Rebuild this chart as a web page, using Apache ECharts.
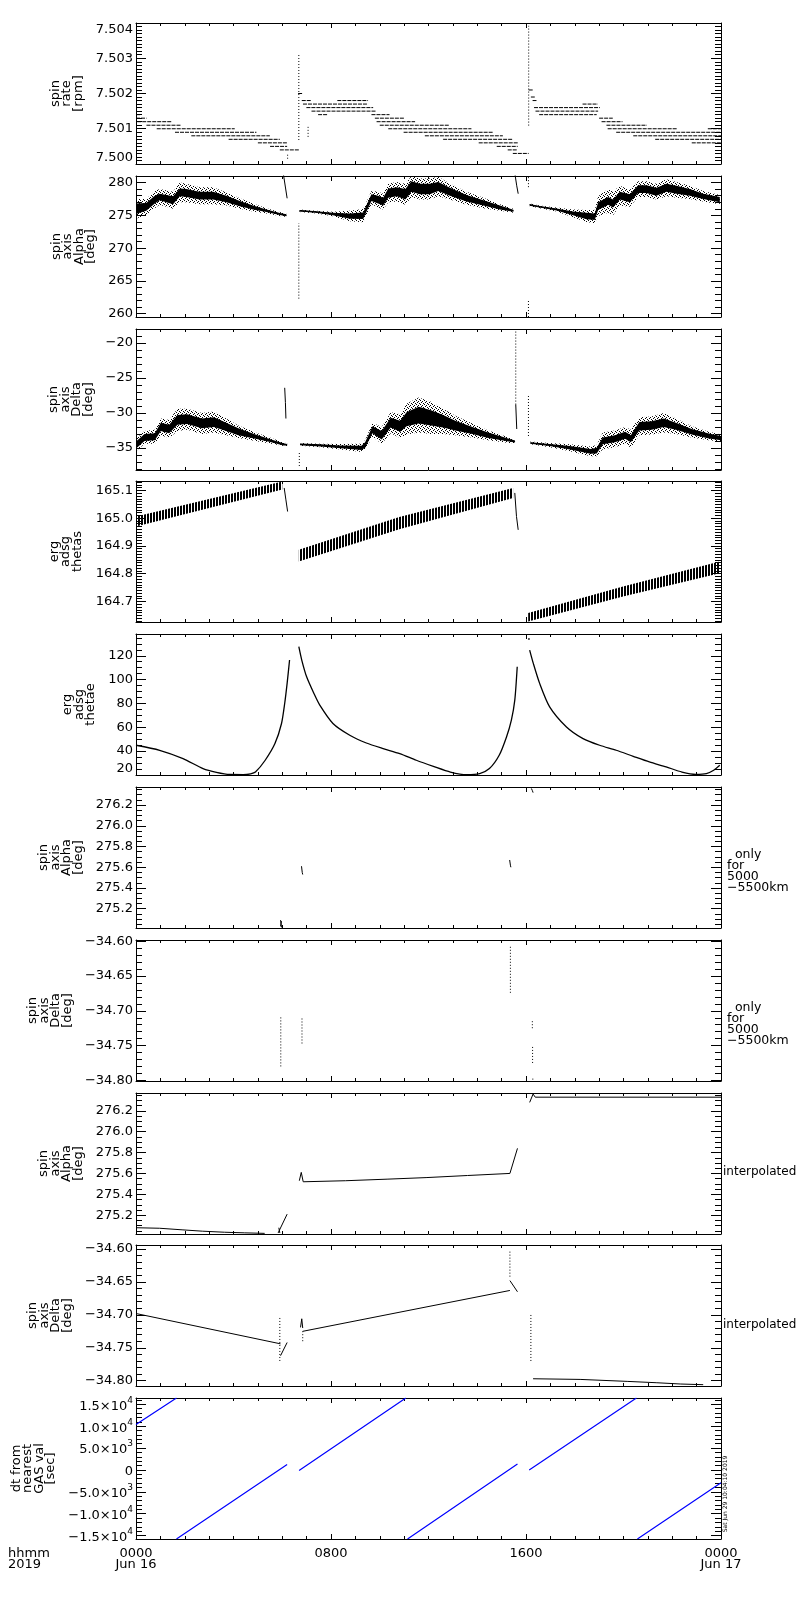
<!DOCTYPE html>
<html>
<head>
<meta charset="utf-8">
<script src="https://cdn.jsdelivr.net/npm/echarts@6/dist/echarts.min.js"></script>
<style>
  html, body { margin: 0; padding: 0; background: #fff; }
  #chart { width: 800px; height: 1600px; }
</style>
</head>
<body>
<div id="chart"></div>
<script>
// ====== values; time is hours of 2019 Jun 16 ======
const X_TICKS = [0, 8, 16, 24];
const X_TICK_LABELS = ['0000\nJun 16', '0800', '1600', '0000\nJun 17'];

// spin rate: flat runs [t0, t1, rpm]
const RATE_RUNS = [
  [0.0, 0.2, 7.5014], [0.0, 0.43, 7.5013], [0.05, 1.45, 7.5012], [0.43, 1.86, 7.5011],
  [0.85, 4.05, 7.5010], [1.6, 4.94, 7.5009], [2.27, 5.49, 7.5008], [3.8, 5.9, 7.5007],
  [5.0, 6.2, 7.5006], [5.5, 6.2, 7.5005], [5.9, 6.68, 7.5004],
  [6.65, 6.85, 7.5020], [6.8, 7.2, 7.5018], [6.85, 9.52, 7.5017], [6.99, 9.73, 7.5016],
  [7.2, 9.86, 7.5015], [8.26, 9.52, 7.5018], [7.47, 7.88, 7.5014],
  [9.66, 10.4, 7.5014], [9.8, 11.0, 7.5013], [9.87, 11.45, 7.5012], [10.0, 12.87, 7.5011],
  [10.35, 13.76, 7.5010], [10.98, 14.64, 7.5009], [11.85, 15.05, 7.5008], [12.6, 15.46, 7.5007],
  [14.06, 15.66, 7.5006], [14.8, 15.66, 7.5005], [15.25, 15.66, 7.5004], [15.46, 16.11, 7.5003],
  [16.11, 16.29, 7.5021], [16.2, 16.36, 7.5019], [16.27, 16.43, 7.5018], [16.33, 19.03, 7.5016],
  [16.39, 18.96, 7.5015], [16.54, 18.9, 7.5014], [18.32, 18.95, 7.5017],
  [19.0, 19.56, 7.5013], [19.1, 19.96, 7.5012], [19.3, 20.96, 7.5011], [19.35, 22.2, 7.5010],
  [23.46, 24.0, 7.5010], [19.7, 24.0, 7.5009], [20.4, 24.0, 7.5008], [21.3, 24.0, 7.5007],
  [22.8, 24.0, 7.5006]
];
// dotted vertical columns [t, low, high]
const RATE_SPIKES = [[6.22, 7.50015, 7.50032], [6.68, 7.50068, 7.50310], [7.06, 7.50077, 7.50111], [16.11, 7.50109, 7.50392]];

// spin axis Alpha: [t, middle, core half width, scatter half width]
const ALPHA_BAND = [
  [[0.0, 276.0, 0.8, 1.5], [0.42, 276.3, 0.6, 1.2], [0.77, 277.4, 0.6, 1.3], [0.97, 277.8, 0.5, 1.2],
   [1.52, 277.3, 0.6, 1.3], [1.8, 278.5, 0.6, 1.5], [2.07, 278.4, 0.6, 1.4], [2.6, 278.0, 0.6, 1.3],
   [3.16, 278.0, 0.6, 1.3], [3.71, 277.5, 0.5, 1.0], [4.26, 276.8, 0.4, 0.8], [4.8, 276.2, 0.3, 0.6],
   [5.35, 275.7, 0.2, 0.4], [5.9, 275.2, 0.15, 0.3], [6.17, 275.0, 0.15, 0.25]],
  [[6.71, 275.7, 0.12, 0.2], [7.4, 275.5, 0.12, 0.2], [8.08, 275.2, 0.2, 0.35], [8.77, 274.9, 0.4, 0.8],
   [9.32, 274.95, 0.5, 1.0], [9.45, 276.0, 0.5, 1.0], [9.66, 277.7, 0.5, 1.0], [9.93, 277.4, 0.6, 1.2],
   [10.14, 277.1, 0.6, 1.2], [10.35, 278.4, 0.7, 1.4], [10.7, 278.6, 0.7, 1.5], [11.05, 278.2, 0.8, 1.6],
   [11.3, 279.4, 0.8, 1.6], [11.65, 279.0, 0.8, 1.6], [12.05, 279.0, 0.8, 1.6], [12.4, 279.4, 0.7, 1.5],
   [12.88, 278.6, 0.6, 1.2], [13.56, 277.6, 0.5, 1.0], [14.25, 276.9, 0.4, 0.8], [14.93, 276.2, 0.3, 0.5],
   [15.48, 275.7, 0.15, 0.3]],
  [[16.15, 276.6, 0.12, 0.2], [16.56, 276.3, 0.12, 0.2], [17.25, 275.9, 0.15, 0.3], [17.93, 275.3, 0.3, 0.6],
   [18.48, 274.9, 0.5, 0.9], [18.82, 274.8, 0.5, 1.0], [18.96, 276.4, 0.6, 1.5], [19.37, 277.2, 0.6, 1.8],
   [19.57, 276.8, 0.6, 1.8], [19.85, 278.0, 0.6, 1.5], [20.26, 277.6, 0.6, 1.3], [20.6, 279.0, 0.6, 1.2],
   [20.94, 279.0, 0.6, 1.2], [21.35, 278.6, 0.6, 1.2], [21.76, 279.2, 0.6, 1.3], [22.17, 278.9, 0.6, 1.2],
   [22.72, 278.5, 0.5, 1.0], [23.27, 277.9, 0.4, 0.8], [23.95, 277.4, 0.4, 0.7]]
];
const ALPHA_LINES = [[[6.05, 281.2], [6.2, 277.6]], [[15.55, 281.2], [15.62, 279.5], [15.68, 278.3]]];
const ALPHA_SPIKES = [[6.68, 262.3, 273.8], [16.1, 259.5, 262.0], [16.1, 279.3, 281.0]];

// spin axis Delta: [t, middle, core half width, scatter half width]
const DELTA_BAND = [
  [[0.0, -34.6, 0.5, 0.9], [0.35, -33.5, 0.5, 0.9], [0.77, -33.4, 0.5, 1.0], [1.02, -32.0, 0.6, 1.2],
   [1.36, -32.3, 0.6, 1.3], [1.7, -31.0, 0.7, 1.6], [2.1, -30.9, 0.7, 1.5], [2.7, -31.5, 0.7, 1.5],
   [3.2, -31.3, 0.7, 1.5], [3.7, -32.0, 0.6, 1.2], [4.2, -32.7, 0.5, 0.9], [4.9, -33.4, 0.3, 0.6],
   [5.55, -34.0, 0.2, 0.4], [6.05, -34.5, 0.15, 0.25], [6.2, -34.55, 0.12, 0.2]],
  [[6.73, -34.5, 0.12, 0.2], [7.57, -34.65, 0.15, 0.25], [8.4, -34.85, 0.2, 0.4], [9.25, -35.0, 0.3, 0.6],
   [9.4, -34.6, 0.4, 0.7], [9.7, -32.4, 0.5, 1.0], [10.08, -33.2, 0.6, 1.2], [10.45, -31.4, 0.7, 1.5],
   [10.84, -31.9, 0.8, 1.7], [11.1, -30.9, 1.0, 2.2], [11.6, -30.3, 1.2, 2.5], [12.1, -30.7, 1.1, 2.3],
   [12.6, -31.2, 0.9, 1.8], [13.1, -31.8, 0.7, 1.4], [13.8, -32.5, 0.5, 1.0], [14.45, -33.2, 0.4, 0.7],
   [15.3, -33.9, 0.2, 0.4], [15.55, -34.1, 0.15, 0.25]],
  [[16.18, -34.3, 0.12, 0.2], [16.97, -34.6, 0.15, 0.3], [17.8, -35.0, 0.25, 0.5], [18.65, -35.5, 0.35, 0.7],
   [18.9, -35.4, 0.4, 0.8], [19.15, -34.0, 0.5, 1.2], [19.65, -33.7, 0.5, 1.2], [20.07, -33.2, 0.5, 1.2],
   [20.3, -33.7, 0.5, 1.3], [20.65, -31.9, 0.6, 1.3], [21.15, -31.8, 0.6, 1.3], [21.65, -31.4, 0.6, 1.4],
   [22.15, -31.9, 0.5, 1.1], [22.8, -32.7, 0.4, 0.8], [23.5, -33.3, 0.35, 0.6], [24.0, -33.6, 0.3, 0.5]]
];
const DELTA_LINES = [[[6.1, -26.4], [6.13, -28.5], [6.15, -30.8]], [[15.58, -28.8], [15.62, -32.3]]];
const DELTA_SPIKES = [[6.7, -37.6, -35.6], [15.58, -28.8, -18.0], [16.1, -33.3, -27.5]];

// erg adsg thetas: hatched band [t, low, high]
const THETAS_BAND = [
  [[0.0, 164.970, 165.006], [6.0, 165.103, 165.132]],
  [[6.68, 164.844, 164.886], [10.8, 164.960, 165.004], [15.47, 165.073, 165.109]],
  [[16.09, 164.628, 164.658], [19.98, 164.718, 164.754], [23.95, 164.802, 164.844]]
];
const THETAS_LINES = [[[6.08, 165.109], [6.15, 165.066], [6.22, 165.024]], [[15.54, 165.091], [15.61, 165.006], [15.68, 164.958]]];

// erg adsg thetae
const THETAE_LINES = [
  [[0, 44.8], [0.97, 40.6], [1.93, 33.6], [2.75, 25.2], [3.3, 22], [3.85, 20.2], [4.4, 20.1], [4.7, 20.8],
   [4.9, 22.3], [5.3, 32.2], [5.7, 46.2], [5.97, 63.1], [6.1, 79.9], [6.2, 96.8], [6.3, 116.4]],
  [[6.68, 127.6], [6.8, 116.4], [7.0, 102.3], [7.3, 88.3], [7.54, 78.5], [8.08, 63.1], [8.77, 53.2],
   [9.45, 46.7], [10.14, 42], [10.82, 37.8], [11.5, 32.2], [12.2, 27.1], [12.9, 22.3], [13.57, 20.1],
   [14.1, 21], [14.5, 25.2], [14.9, 36.4], [15.2, 51.8], [15.4, 66], [15.54, 82.7], [15.64, 110.8]],
  [[16.15, 124.8], [16.3, 113.6], [16.56, 96.8], [16.97, 77.1], [17.66, 60.2], [18.34, 50.4], [19.02, 44.8],
   [19.7, 40.6], [20.4, 35.5], [21.06, 30.8], [21.75, 26.6], [22.4, 22.3], [22.97, 20.4], [23.4, 21],
   [23.7, 23.8], [23.95, 28]]
];
const THETAE_DOTS = [[16.12, 134]];

// Alpha / Delta only for 5000-5500 km
const ALPHA_ORBIT = [
  [[5.93, 275.09], [5.97, 275.02]], [[5.93, 275.03], [5.97, 275.08]],
  [[6.79, 275.61], [6.82, 275.55], [6.84, 275.53]],
  [[15.33, 275.67], [15.36, 275.62], [15.38, 275.60]],
  [[16.22, 276.36], [16.26, 276.34], [16.29, 276.32]]
];
const DELTA_ORBIT = [[5.94, -34.78, -34.708], [6.81, -34.747, -34.710], [15.36, -34.674, -34.605],
  [16.26, -34.725, -34.713], [16.27, -34.775, -34.751], [16.28, -34.799, -34.795]];

// interpolated Alpha / Delta
const ALPHA_INTERP = [
  [[0, 275.08], [0.97, 275.075], [0.97, 275.064], [1.89, 275.06], [1.89, 275.05], [2.72, 275.047],
   [2.72, 275.04], [3.63, 275.037], [3.63, 275.034], [4.46, 275.031], [4.46, 275.028], [5.28, 275.026]],
  [[5.83, 275.03], [6.2, 275.21]], [[5.86, 275.08], [5.9, 275.03]],
  [[6.70, 275.53], [6.78, 275.61], [6.86, 275.52], [8.6, 275.53], [10.3, 275.545], [11.9, 275.56],
   [13.6, 275.58], [15.34, 275.60], [15.65, 275.84]],
  [[16.15, 276.28], [16.29, 276.36], [16.38, 276.33], [24, 276.33]]
];
const DELTA_INTERP = [
  [[0, -34.698], [5.93, -34.744]],
  [[5.93, -34.762], [6.2, -34.742]],
  [[6.75, -34.719], [6.8, -34.706], [6.84, -34.72]],
  [[6.84, -34.725], [15.34, -34.663]],
  [[15.34, -34.648], [15.65, -34.665]],
  [[16.29, -34.797], [18.22, -34.798], [20.15, -34.801], [21.34, -34.803], [22.35, -34.805], [23.27, -34.806]]
];
const DELTA_INTERP_SPIKES = [[5.9, -34.770, -34.704], [6.84, -34.74, -34.725], [15.34, -34.642, -34.602], [16.2, -34.770, -34.699]];

// dt from nearest GAS val [sec]
const DT_LINES = [
  [[0, 10395], [1.66, 16450]], [[1.66, -15780], [6.2, 1257]],
  [[6.69, -100], [11.07, 16450]], [[11.14, -15780], [15.65, 1350]],
  [[16.13, -30], [20.53, 16450]], [[20.57, -15780], [24, -2900]]
];
const DT_TICKS = [-15000, -10000, -5000, 0, 5000, 10000, 15000];
const DT_MANT = ['\u22121.5', '\u22121.0', '\u22125.0', '0', '5.0', '1.0', '1.5'];
const DT_EXP = ['4', '4', '3', '', '3', '4', '4'];

// ====== layout ======
const FONT = 'DejaVu Sans';
const GRID_LEFT = 136, GRID_W = 585, GRID_H = 141;
const PANELS = [
  { top: 23,   min: 7.500,   max: 7.504,   major: 0.001, minor: 0.0001, dec: 3, name: 'spin\nrate\n[rpm]', gap: 51, clampMin: true, clampMax: true },
  { top: 176,  min: 259.5,   max: 281.0,   major: 5,     minor: 1,      dec: 0, name: 'spin\naxis\nAlpha\n[deg]', gap: 38 },
  { top: 329,  min: -38.17,  max: -17.98,  major: 5,     minor: 1,      dec: 0, name: 'spin\naxis\nDelta\n[deg]', gap: 39 },
  { top: 481,  min: 164.626, max: 165.134, major: 0.1,   minor: 0.01,   dec: 1, name: 'erg\nadsg\nthetas', gap: 53 },
  { top: 634,  min: 19.8,    max: 138.3,   major: 20,    minor: 5,      dec: 0, name: 'erg\nadsg\nthetae', gap: 39, clampMin: true },
  { top: 787,  min: 275.014, max: 276.374, major: 0.2,   minor: 0.05,   dec: 1, name: 'spin\naxis\nAlpha\n[deg]', gap: 51 },
  { top: 940,  min: -34.801, max: -34.598, major: 0.05,  minor: 0.01,   dec: 2, name: 'spin\naxis\nDelta\n[deg]', gap: 61 },
  { top: 1093, min: 275.02,  max: 276.37,  major: 0.2,   minor: 0.05,   dec: 1, name: 'spin\naxis\nAlpha\n[deg]', gap: 51 },
  { top: 1245, min: -34.808, max: -34.594, major: 0.05,  minor: 0.01,   dec: 2, name: 'spin\naxis\nDelta\n[deg]', gap: 61 },
  { top: 1398, min: -15780,  max: 16450,   major: 5000,  minor: 1000,   dec: 0, name: 'dt from\nnearest\nGAS val\n[sec]', gap: 74, sci: true }
];

// ====== helpers ======
function stepValues(min, max, step){
  const out = [];
  const k0 = Math.ceil(min / step - 1e-6), k1 = Math.floor(max / step + 1e-6);
  for(let k = k0; k <= k1; k++) out.push(+(k * step).toFixed(6));
  return out;
}

function tickText(p, v){
  if(p.sci){
    const k = DT_TICKS.indexOf(Math.round(v));
    if(k < 0) return '';
    return DT_EXP[k] ? `{m|${DT_MANT[k]}×10}{e|${DT_EXP[k]}}` : `{m|${DT_MANT[k]}}`;
  }
  return v.toFixed(p.dec).replace('-', '\u2212');
}

function xAxesFor(i){
  const base = {
    type: 'value', gridIndex: i, min: 0, max: 24, interval: 8,
    axisLine: { show: true, onZero: false, lineStyle: { color: '#000', width: 1 } },
    axisTick: { show: true, inside: true, length: 5, lineStyle: { color: '#000' } },
    minorTick: { show: true, splitNumber: 8, length: 3, lineStyle: { color: '#000' } },
    splitLine: { show: false }, minorSplitLine: { show: false }
  };
  return [
    Object.assign({}, base, {
      position: 'bottom',
      axisLabel: {
        show: i === PANELS.length - 1, margin: 9, color: '#000', fontFamily: FONT, fontSize: 13, lineHeight: 11,
        showMinLabel: true, showMaxLabel: true,
        formatter: v => { const k = X_TICKS.indexOf(v); return k < 0 ? '' : X_TICK_LABELS[k]; }
      }
    }),
    Object.assign({}, base, { position: 'top', axisLabel: { show: false } })
  ];
}

function yAxesFor(i, p){
  const majors = stepValues(p.min, p.max, p.major);
  const minors = stepValues(p.min, p.max, p.minor);
  const base = { type: 'value', gridIndex: i, min: p.min, max: p.max, splitLine: { show: false } };
  const label = {
    show: true, customValues: majors, margin: 3, color: '#000', fontFamily: FONT, fontSize: 13,
    formatter: v => tickText(p, v)
  };
  if(p.clampMax) label.verticalAlignMaxLabel = 'top';
  if(p.clampMin) label.verticalAlignMinLabel = 'bottom';
  if(p.sci) label.rich = {
    m: { fontFamily: FONT, fontSize: 13, color: '#000', lineHeight: 17, verticalAlign: 'bottom' },
    e: { fontFamily: FONT, fontSize: 9, color: '#000', lineHeight: 9, verticalAlign: 'top' }
  };
  const axes = [];
  ['left', 'right'].forEach(side => {
    axes.push(Object.assign({}, base, {
      position: side,
      axisLine: { show: true, onZero: false, lineStyle: { color: '#000', width: 1 } },
      axisTick: { show: true, inside: true, length: 10, customValues: majors, lineStyle: { color: '#000' } },
      axisLabel: side === 'left' ? label : { show: false, customValues: majors }
    }, side === 'left' ? {
      name: p.name, nameLocation: 'middle', nameRotate: 90, nameGap: p.gap,
      nameTextStyle: { color: '#000', fontFamily: FONT, fontSize: 13, lineHeight: 11.5 }
    } : {}));
    axes.push(Object.assign({}, base, {
      position: side,
      axisLine: { show: false, onZero: false },
      axisTick: { show: true, inside: true, length: 6, customValues: minors, lineStyle: { color: '#000' } },
      axisLabel: { show: false, customValues: minors }
    }));
  });
  return axes;
}

function pathsData(paths){
  const d = [];
  paths.forEach(path => { path.forEach(pt => d.push(pt)); d.push([path[path.length - 1][0], null]); });
  return d;
}
function runsData(runs){
  return pathsData(runs.map(r => [[r[0], r[2]], [r[1], r[2]]]));
}
function columnsData(cols){
  return pathsData(cols.map(c => [[c[0], c[1]], [c[0], c[2]]]));
}

function lineSeries(i, data, style, extra){
  return Object.assign({
    type: 'line', xAxisIndex: 2 * i, yAxisIndex: 4 * i, data,
    showSymbol: false, symbol: 'none', connectNulls: false, silent: true, animation: false, z: 3,
    lineStyle: Object.assign({ color: '#000', width: 1 }, style || {})
  }, extra || {});
}

function bandSeries(i, sections, fill, z){
  return {
    type: 'custom', xAxisIndex: 2 * i, yAxisIndex: 4 * i, clip: true, silent: true, animation: false, z,
    data: sections.map((s, k) => [s[0][0], s[0][1], k]),
    encode: { x: 0, y: 1 },
    renderItem(params, api){
      const sec = sections[params.dataIndex];
      const up = sec.map(p => api.coord([p[0], p[2]]));
      const dn = sec.map(p => api.coord([p[0], p[1]])).reverse();
      return { type: 'polygon', shape: { points: up.concat(dn) }, style: { fill, stroke: null } };
    }
  };
}

// band from [t, mid, core, scatter] -> [t, low, high]
function spreadOf(sections, col){
  return sections.map(sec => sec.map(p => [p[0], p[1] - p[col], p[1] + p[col]]));
}

function makePattern(w, h, pixels){
  const c = document.createElement('canvas');
  c.width = w; c.height = h;
  const g = c.getContext('2d');
  g.fillStyle = '#000';
  pixels.forEach(([x, y]) => g.fillRect(x, y, 1, 1));
  return { image: c, repeat: 'repeat' };
}

function main(){
  const speckle = makePattern(4, 4, [[0, 0], [2, 1], [1, 2], [3, 3]]);
  const hatch = makePattern(3, 1, [[0, 0], [1, 0]]);
  const dotted = { type: [1, 2] };

  const series = [
    // spin rate
    lineSeries(0, runsData(RATE_RUNS), { type: [4, 1] }),
    lineSeries(0, columnsData(RATE_SPIKES), dotted),
    // Alpha
    bandSeries(1, spreadOf(ALPHA_BAND, 3), speckle, 2),
    bandSeries(1, spreadOf(ALPHA_BAND, 2), '#000', 2),
    lineSeries(1, pathsData(ALPHA_BAND.map(sec => sec.map(p => [p[0], p[1]])))),
    lineSeries(1, pathsData(ALPHA_LINES)),
    lineSeries(1, columnsData(ALPHA_SPIKES), dotted),
    // Delta
    bandSeries(2, spreadOf(DELTA_BAND, 3), speckle, 2),
    bandSeries(2, spreadOf(DELTA_BAND, 2), '#000', 2),
    lineSeries(2, pathsData(DELTA_BAND.map(sec => sec.map(p => [p[0], p[1]])))),
    lineSeries(2, pathsData(DELTA_LINES)),
    lineSeries(2, columnsData(DELTA_SPIKES), dotted),
    // thetas
    bandSeries(3, THETAS_BAND, hatch, 2),
    lineSeries(3, pathsData(THETAS_LINES)),
    // thetae
    lineSeries(4, pathsData(THETAE_LINES), { width: 1.3 }, { smooth: 0.25 }),
    { type: 'scatter', xAxisIndex: 8, yAxisIndex: 16, data: THETAE_DOTS, symbolSize: 2,
      itemStyle: { color: '#000' }, silent: true, animation: false },
    // only for 5000-5500 km
    lineSeries(5, pathsData(ALPHA_ORBIT)),
    lineSeries(6, columnsData(DELTA_ORBIT), dotted),
    // interpolated
    lineSeries(7, pathsData(ALPHA_INTERP)),
    lineSeries(8, pathsData(DELTA_INTERP)),
    lineSeries(8, columnsData(DELTA_INTERP_SPIKES), dotted),
    // dt
    lineSeries(9, pathsData(DT_LINES), { color: '#0000ff', width: 1.2 })
  ];

  const txt = (x, y, text, extra) => ({
    type: 'text', x, y, silent: true,
    style: Object.assign({ text, fill: '#000', fontFamily: FONT, fontSize: 13, lineHeight: 11,
      textAlign: 'left', textVerticalAlign: 'top' }, extra || {})
  });

  const option = {
    animation: false,
    backgroundColor: '#fff',
    textStyle: { fontFamily: FONT },
    grid: PANELS.map(p => ({ left: GRID_LEFT, top: p.top, width: GRID_W, height: GRID_H,
      containLabel: false, outerBoundsMode: 'none', show: false })),
    xAxis: PANELS.flatMap((p, i) => xAxesFor(i)),
    yAxis: PANELS.flatMap((p, i) => yAxesFor(i, p)),
    series,
    graphic: [
      txt(727, 849, '  only\nfor\n5000\n\u22125500km', { fontSize: 12.5 }),
      txt(727, 1002, '  only\nfor\n5000\n\u22125500km', { fontSize: 12.5 }),
      txt(723, 1172, 'interpolated', { fontSize: 12, textVerticalAlign: 'middle' }),
      txt(723, 1325, 'interpolated', { fontSize: 12, textVerticalAlign: 'middle' }),
      txt(8, 1548, 'hhmm\n2019'),
      Object.assign(txt(725, 1494, 'Sat Jun 29 10:04:10 2019',
        { fontSize: 6, textAlign: 'center', textVerticalAlign: 'middle' }), { rotation: Math.PI / 2 })
    ]
  };

  const chart = echarts.init(document.getElementById('chart'), null, { renderer: 'canvas' });
  chart.setOption(option);
}
window.addEventListener('DOMContentLoaded', main);
</script>
</body>
</html>
